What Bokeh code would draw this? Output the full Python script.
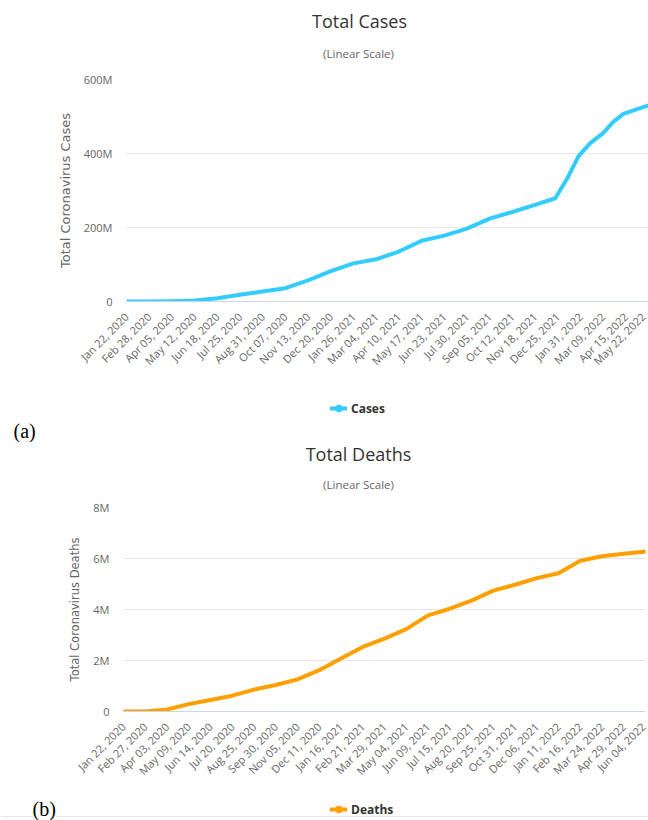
import pandas as pd
from math import pi
from bokeh.plotting import figure
from bokeh.models import (ColumnDataSource, FixedTicker, Range1d, Label, Legend,
                          LegendItem, PrintfTickFormatter, Span)
from bokeh.embed import file_html
from bokeh.resources import INLINE

START = "2020-01-22"

# ---------------- data: total cases (millions) ----------------
case_tick_labels = ["Jan 22, 2020", "Feb 28, 2020", "Apr 05, 2020", "May 12, 2020",
                    "Jun 18, 2020", "Jul 25, 2020", "Aug 31, 2020", "Oct 07, 2020",
                    "Nov 13, 2020", "Dec 20, 2020", "Jan 26, 2021", "Mar 04, 2021",
                    "Apr 10, 2021", "May 17, 2021", "Jun 23, 2021", "Jul 30, 2021",
                    "Sep 05, 2021", "Oct 12, 2021", "Nov 18, 2021", "Dec 25, 2021",
                    "Jan 31, 2022", "Mar 09, 2022", "Apr 15, 2022", "May 22, 2022"]
case_dates = ["2020-01-22", "2020-02-28", "2020-04-05", "2020-05-12", "2020-06-18",
              "2020-07-25", "2020-08-31", "2020-10-07", "2020-11-13", "2020-12-20",
              "2021-01-26", "2021-03-04", "2021-04-10", "2021-05-17", "2021-06-23",
              "2021-07-30", "2021-09-05", "2021-10-12", "2021-11-18", "2021-12-21",
              "2022-01-09", "2022-01-28", "2022-02-16", "2022-03-09", "2022-03-26",
              "2022-04-11", "2022-05-11", "2022-05-22"]
case_values = [0, 0.1, 1.0, 3.0, 9, 18, 27, 36, 57, 82, 103, 114, 135, 164, 178, 197,
               224, 242, 261, 279, 331, 393, 428, 455, 486, 507, 524, 530]
case_yticks = [0, 200, 400, 600]

# ---------------- data: total deaths (millions) ----------------
death_tick_labels = ["Jan 22, 2020", "Feb 27, 2020", "Apr 03, 2020", "May 09, 2020",
                     "Jun 14, 2020", "Jul 20, 2020", "Aug 25, 2020", "Sep 30, 2020",
                     "Nov 05, 2020", "Dec 11, 2020", "Jan 16, 2021", "Feb 21, 2021",
                     "Mar 29, 2021", "May 04, 2021", "Jun 09, 2021", "Jul 15, 2021",
                     "Aug 20, 2021", "Sep 25, 2021", "Oct 31, 2021", "Dec 06, 2021",
                     "Jan 11, 2022", "Feb 16, 2022", "Mar 24, 2022", "Apr 29, 2022",
                     "Jun 04, 2022"]
death_values = [0, 0.003, 0.08, 0.29, 0.45, 0.62, 0.86, 1.04, 1.26, 1.62, 2.08, 2.53,
                2.86, 3.23, 3.77, 4.03, 4.35, 4.74, 4.97, 5.23, 5.42, 5.91, 6.09, 6.19,
                6.27]
death_yticks = [0, 2, 4, 6, 8]

FONT = "Open Sans"
GREY = "#666666"
DARK = "#333333"
W = 648
NAN = float("nan")


def days_from_start(stamps):
    return [int((s - pd.Timestamp(START)).days) for s in stamps]


def strip(height):
    """A text-only band whose frame covers the whole canvas (1 unit = 1 px)."""
    p = figure(width=W, height=height, output_backend="svg", toolbar_location=None,
               x_range=Range1d(0, W), y_range=Range1d(0, height),
               x_axis_type=None, y_axis_type=None, title=None,
               min_border_left=0, min_border_right=0,
               min_border_top=0, min_border_bottom=0)
    p.outline_line_color = None
    p.background_fill_color = "white"
    p.border_fill_color = "white"
    return p


def header(height, title, tpos, spos):
    p = strip(height)
    p.add_layout(Label(x=tpos[0], y=tpos[1], text=title, text_font=FONT,
                       text_font_size="18px", text_color=DARK,
                       text_align="center", text_baseline="middle"))
    p.add_layout(Label(x=spos[0], y=spos[1], text="(Linear Scale)", text_font=FONT,
                       text_font_size="11.5px", text_color=GREY,
                       text_align="center", text_baseline="middle"))
    return p


def footer(height, series, color, legpos, tag, tagpos, rule=None):
    p = strip(height)
    if rule is not None:
        p.add_layout(Span(location=rule, dimension="width", line_color="#e6e6e6",
                          line_width=1))
    # legend-only renderers (no visible data)
    line = p.line(x=[NAN], y=[NAN], line_color=color, line_width=4, line_cap="round")
    dot = p.scatter(x=[NAN], y=[NAN], size=8, fill_color=color, line_color=color)
    leg = Legend(items=[LegendItem(label=series, renderers=[line, dot])],
                 location=legpos, glyph_width=17, glyph_height=20, label_height=20,
                 label_standoff=4, padding=0, margin=0, spacing=0,
                 border_line_color=None, background_fill_alpha=0,
                 label_text_font=FONT, label_text_font_size="12px",
                 label_text_font_style="bold", label_text_color=DARK)
    p.add_layout(leg, "center")
    p.add_layout(Label(x=tagpos[0], y=tagpos[1], text=tag, text_font="Liberation Serif",
                       text_font_size="20px", text_color="black",
                       text_align="left", text_baseline="middle",
                       background_fill_color="white"))
    return p


def chart(height, borders, tick_labels, x, y, yticks, ymax, color, ylabel, ylabel_size):
    ltop, lright, lbottom, lleft = borders
    tick_days = days_from_start(pd.to_datetime(tick_labels, format="%b %d, %Y"))
    p = figure(width=W, height=height, output_backend="svg", toolbar_location=None,
               x_range=Range1d(0, x[-1]), y_range=Range1d(0, ymax), title=None,
               min_border_top=ltop, min_border_right=lright,
               min_border_bottom=lbottom, min_border_left=lleft)
    p.outline_line_color = None
    p.background_fill_color = "white"
    p.border_fill_color = "white"

    src = ColumnDataSource(dict(x=x, y=y))
    p.line("x", "y", source=src, line_color=color, line_width=4,
           line_join="round", line_cap="round")

    xa = p.xaxis[0]
    xa.ticker = FixedTicker(ticks=tick_days)
    xa.major_label_overrides = {d: lab for d, lab in zip(tick_days, tick_labels)}
    xa.major_label_orientation = pi / 4
    xa.major_label_text_font = FONT
    xa.major_label_text_font_size = "11px"
    xa.major_label_text_color = GREY
    xa.major_label_standoff = 13
    xa.axis_line_color = "#ccd6eb"
    xa.major_tick_line_color = None
    xa.minor_tick_line_color = None
    xa.major_tick_out = 0
    xa.major_tick_in = 0

    ya = p.yaxis[0]
    ya.ticker = FixedTicker(ticks=yticks)
    ya.formatter = PrintfTickFormatter(format="%dM")
    ya.major_label_overrides = {0: "0"}
    ya.major_label_text_font = FONT
    ya.major_label_text_font_size = "11px"
    ya.major_label_text_color = GREY
    ya.major_label_standoff = 14
    ya.axis_line_color = None
    ya.major_tick_line_color = None
    ya.minor_tick_line_color = None
    ya.major_tick_out = 0
    ya.major_tick_in = 0
    ya.axis_label = ylabel
    ya.axis_label_text_font = "DejaVu Sans"
    ya.axis_label_text_font_size = ylabel_size
    ya.axis_label_text_font_style = "normal"
    ya.axis_label_text_color = GREY
    ya.axis_label_standoff = 8

    p.xgrid.grid_line_color = None
    p.ygrid.grid_line_color = "#e6e6e6"
    return p


case_x = days_from_start(pd.to_datetime(case_dates))
death_x = days_from_start(pd.to_datetime(death_tick_labels, format="%b %d, %Y"))

# page rows: 0-70 | 70-390 | 390-442 | 442-498 | 498-790 | 790-820
head1 = header(70, "Total Cases", (359, 50), (358, 17))
chart1 = chart(320, (9, 0, 89, 126), case_tick_labels, case_x, case_values,
               case_yticks, 600, "#33ccff", "Total Coronavirus Cases", "13px")
foot1 = footer(52, "Cases", "#33ccff", (330, 24), "(a)", (13, 12))
head2 = header(56, "Total Deaths", (358, 45), (358, 14))
chart2 = chart(292, (9, 3, 79, 123), death_tick_labels, death_x, death_values,
               death_yticks, 8, "#ffa000", "Total Coronavirus Deaths", "11.5px")
foot2 = footer(30, "Deaths", "#ffa000", (330, 1), "(b)", (32, 12), rule=4)

open("out.html", "w").write(
    file_html([head1, chart1, foot1, head2, chart2, foot2], INLINE))
